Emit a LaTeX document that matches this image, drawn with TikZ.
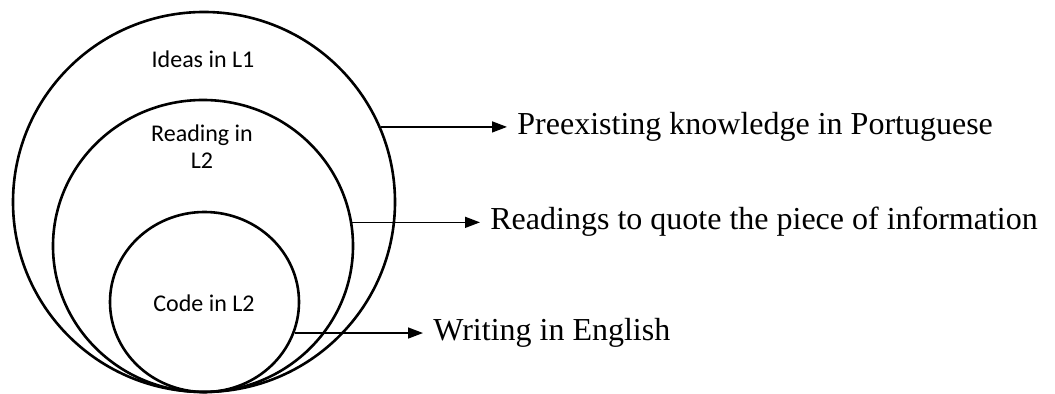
\documentclass[tikz,border=0pt]{standalone}
\usepackage{fontspec}
\setmainfont{Liberation Serif}
\newfontfamily\calibri{Carlito}
\usetikzlibrary{arrows.meta,shapes.geometric}

\begin{document}
\begin{tikzpicture}[
    x=0.5pt, y=-0.5pt,
    ring/.style={draw, ellipse, line width=1.3pt, inner sep=0pt},
    inlabel/.style={align=center, font=\calibri\fontsize{12}{13.5}\selectfont},
    outlabel/.style={anchor=west, inner sep=5pt, font=\fontsize{16}{19}\selectfont},
    arrow/.style={-{Triangle[length=7.5pt, width=5.5pt]}, line width=0.75pt}
]
\useasboundingbox (0,0) rectangle (1055,394);

\node[ring, minimum width=191pt, minimum height=190pt] (outer) at (204,202) {};
\node[ring, minimum width=150pt, minimum height=146pt] (middle) at (203,246) {};
\node[ring, minimum width=94.5pt, minimum height=90pt] (inner) at (204.5,302) {};

\node[inlabel] (ideas) at (203,59) {Ideas in L1};
\node[inlabel] (reading) at (202,147) {Reading in\\L2};
\node[inlabel] (code) at (204,303) {Code in L2};

\node[outlabel] (pk) at (507,127) {Preexisting knowledge in Portuguese};
\node[outlabel] (rd) at (480,222) {Readings to quote the piece of information};
\node[outlabel] (wr) at (423,333) {Writing in English};

\draw[arrow] (outer.23.2) -- (outer.23.2 -| pk.west);
\draw[arrow] (middle.9.2) -- (middle.9.2 -| rd.west);
\draw[arrow] (inner.-19.3) -- (inner.-19.3 -| wr.west);
\end{tikzpicture}
\end{document}
